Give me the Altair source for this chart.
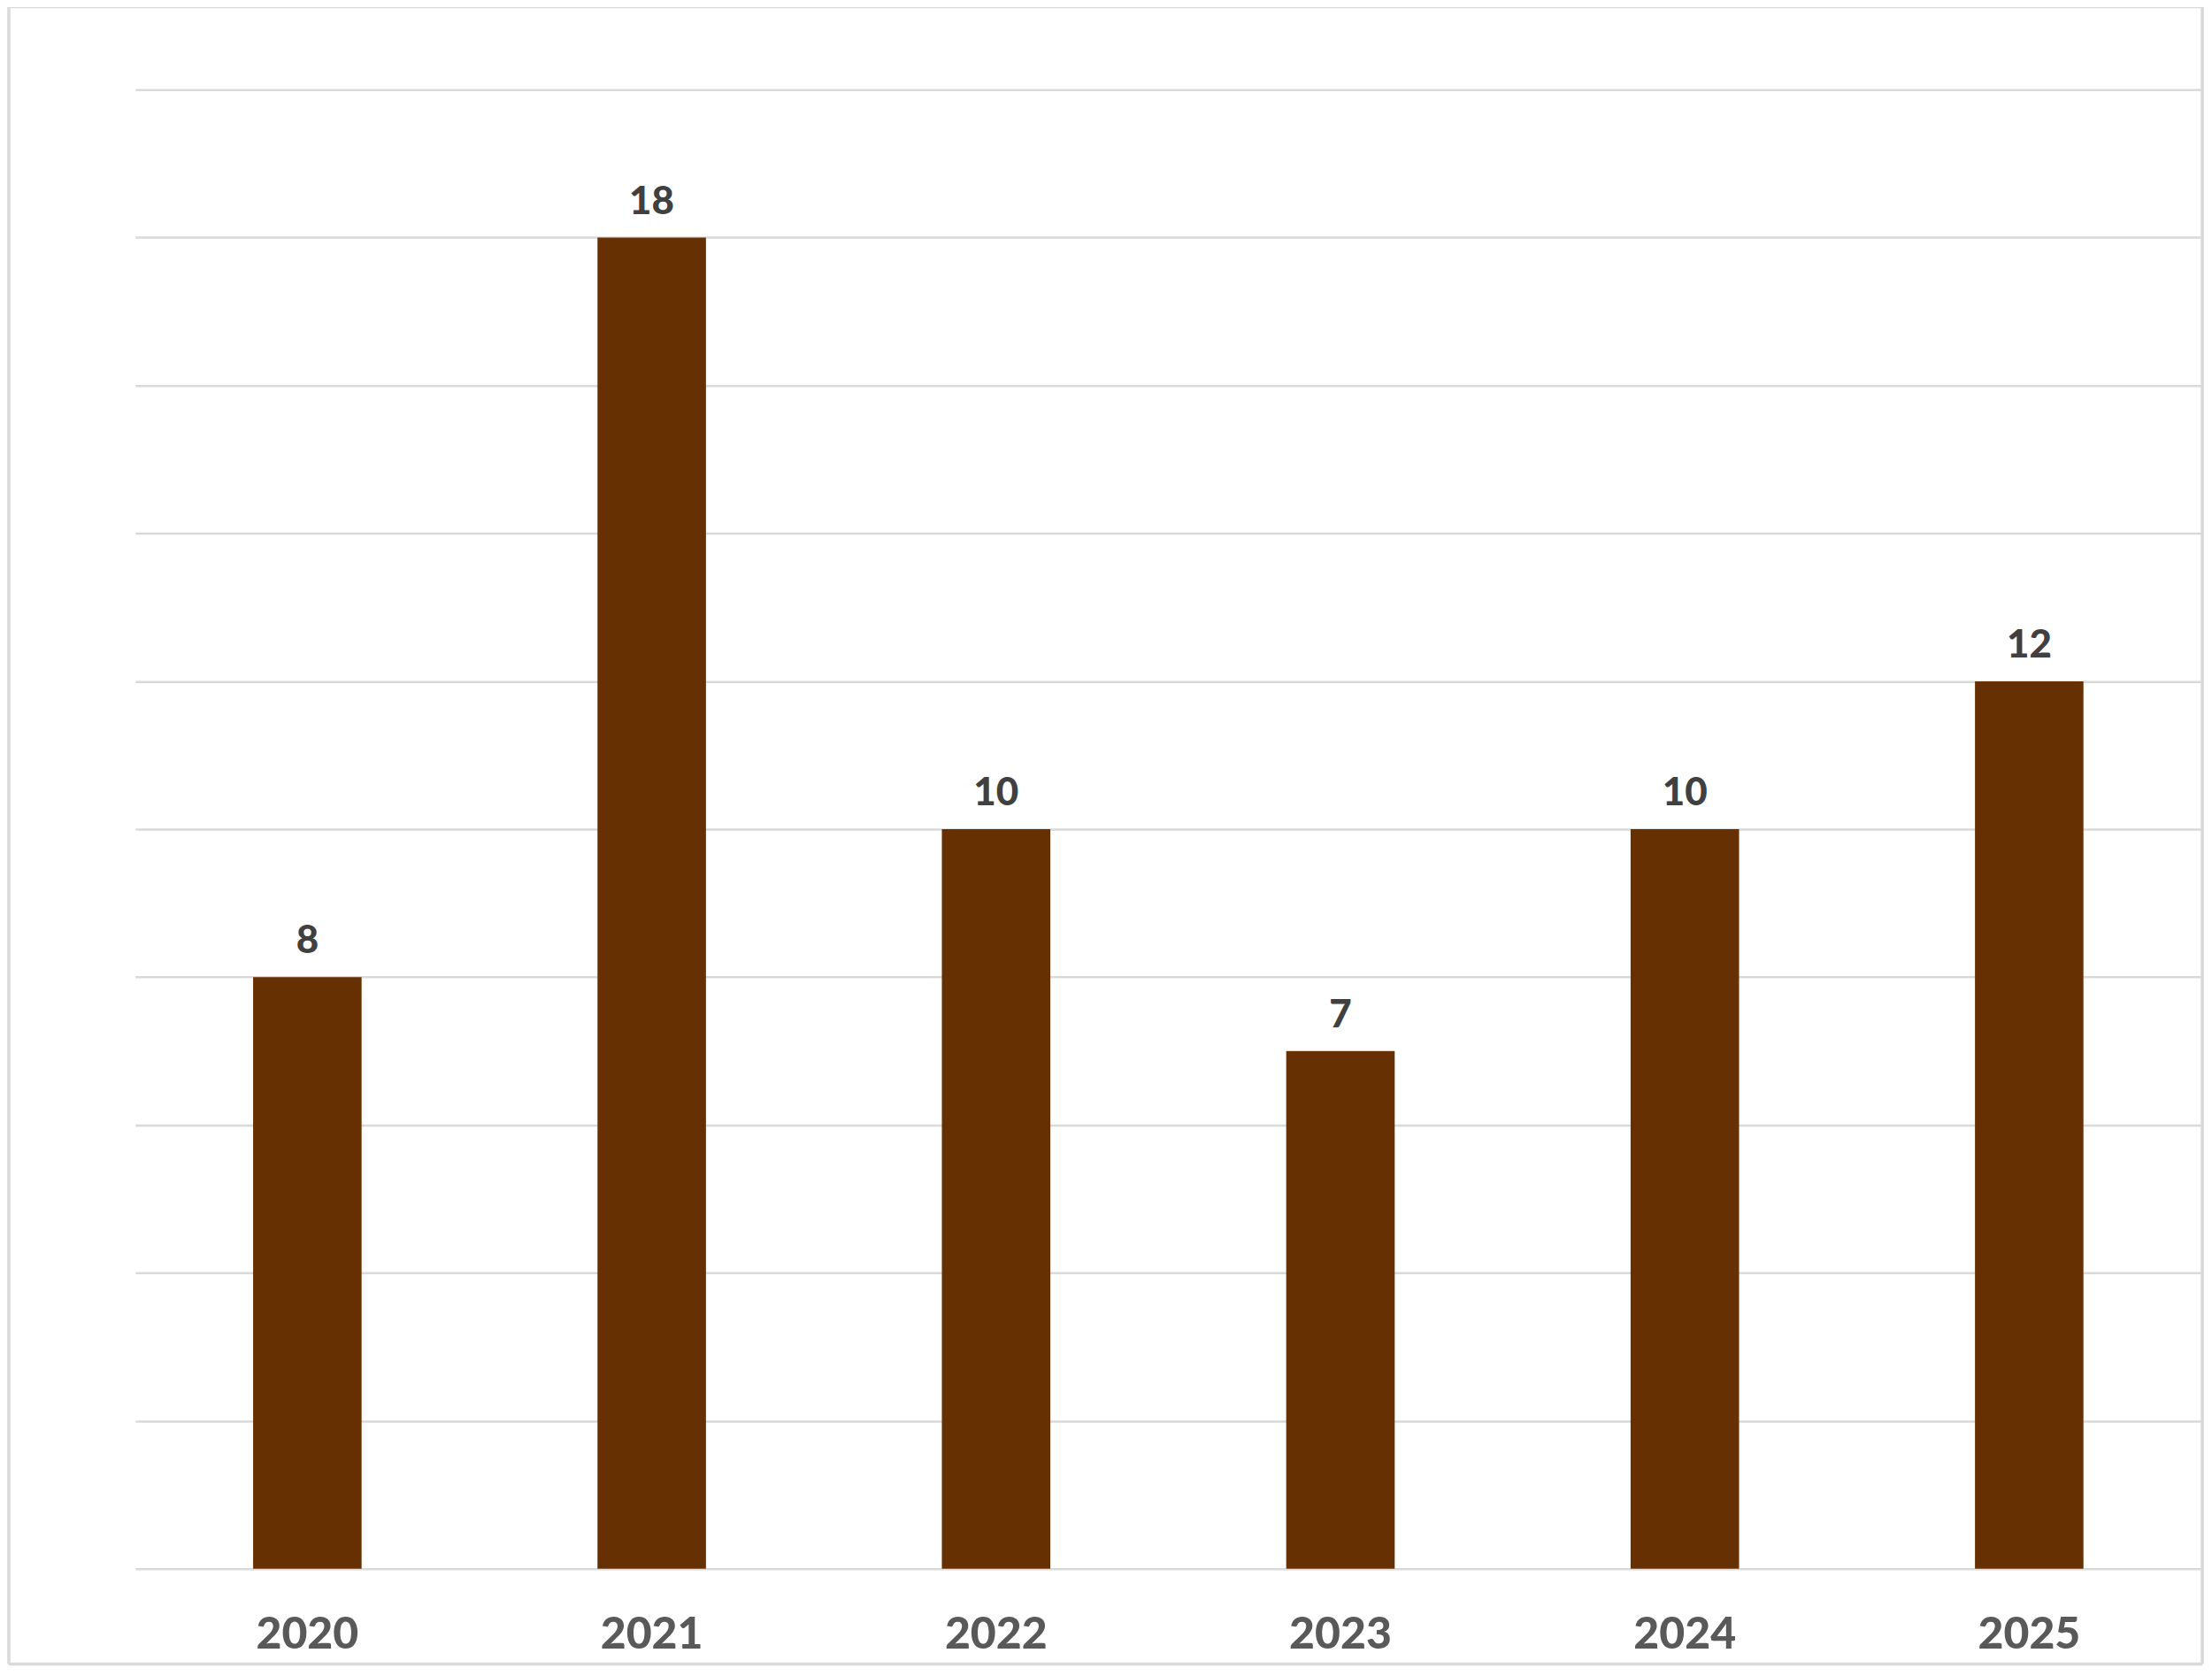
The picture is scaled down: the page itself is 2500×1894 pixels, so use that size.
import altair as alt
import pandas as pd

years = ["2020", "2021", "2022", "2023", "2024", "2025"]
counts = [8, 18, 10, 7, 10, 12]
y_ticks = [0, 2, 4, 6, 8, 10, 12, 14, 16, 18, 20]

df = pd.DataFrame({"year": years, "count": counts})

W, H = 2339, 1674
FONT = "Lato"

base = alt.Chart(df)

bars = base.mark_bar(color="#663003").encode(
    x=alt.X("year:N", sort=years,
            scale=alt.Scale(paddingInner=0.685, paddingOuter=0.3425),
            axis=alt.Axis(title=None, labelAngle=0, labelFontSize=50, labelFont=FONT,
                          labelFontWeight=900, labelColor="#595959",
                          labelPadding=50, ticks=False, domain=False, grid=False)),
    y=alt.Y("count:Q", scale=alt.Scale(domain=[0, 20], nice=False),
            axis=alt.Axis(title=None, values=y_ticks, labels=False, ticks=False,
                          domain=False, grid=True, gridColor="#d9d9d9", gridWidth=2.5)),
)

labels = base.mark_text(font=FONT, fontSize=44, fontWeight=900, color="#404040",
                        baseline="alphabetic", dy=-27).encode(
    x=alt.X("year:N", sort=years),
    y=alt.Y("count:Q"),
    text=alt.Text("count:Q"),
)

frame_df = pd.DataFrame({
    "x": [-143, -143, -143, 2340],
    "x2": [2340, 2340, -143, 2340],
    "y": [-94, 1782, -94, -94],
    "y2": [-94, 1782, 1782, 1782],
})
frame = alt.Chart(frame_df).mark_rule(color="#d9d9d9", strokeWidth=3.5).encode(
    x=alt.X("x:Q", scale=None), x2="x2:Q",
    y=alt.Y("y:Q", scale=None), y2="y2:Q",
)

chart = alt.layer(bars, labels, frame).properties(
    width=W, height=H,
    background="white",
    autosize=alt.AutoSizeParams(type="none"),
    padding={"left": 145, "top": 92, "right": 4, "bottom": 112},
).configure_view(strokeWidth=0)

chart.save("out.html", embed_options={"renderer": "svg", "actions": False})
